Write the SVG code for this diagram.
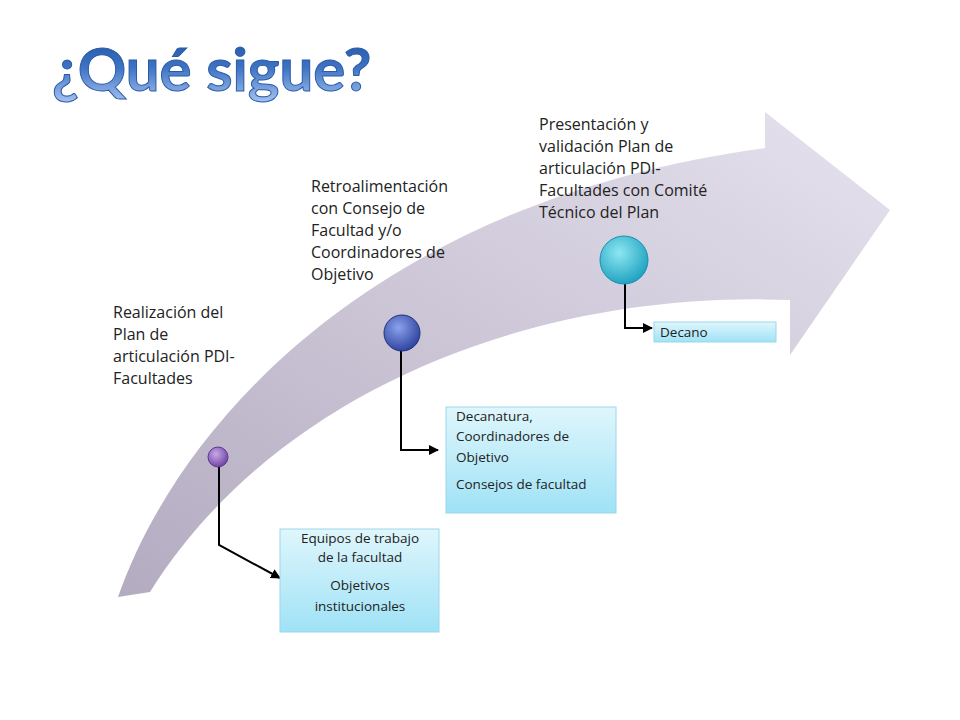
<svg xmlns="http://www.w3.org/2000/svg" width="960" height="720" viewBox="0 0 960 720">
<defs>
<linearGradient id="band" x1="0" y1="1" x2="1" y2="0"><stop offset="0" stop-color="#b3abc0"/><stop offset="1" stop-color="#e6e2ee"/></linearGradient>
<linearGradient id="title" x1="0" y1="0" x2="0" y2="1"><stop offset="0" stop-color="#1c4fa0"/><stop offset="0.5" stop-color="#3f74c4"/><stop offset="1" stop-color="#a9c6f0"/></linearGradient>
<linearGradient id="box" x1="0" y1="0" x2="0" y2="1"><stop offset="0" stop-color="#dff6fc"/><stop offset="1" stop-color="#9fe2f6"/></linearGradient>
<radialGradient id="g1" cx="0.4" cy="0.35" r="0.7"><stop offset="0" stop-color="#c9a8e8"/><stop offset="1" stop-color="#6a3fa0"/></radialGradient>
<radialGradient id="g2" cx="0.4" cy="0.35" r="0.7"><stop offset="0" stop-color="#8aa2ee"/><stop offset="1" stop-color="#2a3f9a"/></radialGradient>
<radialGradient id="g3" cx="0.4" cy="0.35" r="0.7"><stop offset="0" stop-color="#8ee6f2"/><stop offset="1" stop-color="#1a9fbf"/></radialGradient>
<marker id="ah" viewBox="0 0 10 10" refX="9" refY="5" markerWidth="5" markerHeight="5" orient="auto"><path d="M0,0 L10,5 L0,10 z" fill="#000"/></marker>
</defs>
<style>
.t{font-family:"Open Sans","Liberation Sans",sans-serif;font-size:16px;fill:#222}
.s{font-family:"Open Sans","Liberation Sans",sans-serif;font-size:13.5px;fill:#222}
.bx{fill:url(#box);stroke:#9ad7ea;stroke-width:1}
.c{fill:none;stroke:#000;stroke-width:2}
</style>
<rect width="960" height="720" fill="#fff"/>
<text x="52" y="91" font-family="Lato,'Open Sans',sans-serif" font-size="60" font-weight="bold" fill="url(#title)" stroke="#2a5aa8" stroke-width="1">¿Qué sigue?</text>
<path d="M118,597 C180,420 380,200 765,148 L765,112 L890,210 L790,355 L790,300 C520,290 270,400 150,592 Z" fill="url(#band)"/>
<g id="connectors">
<path class="c" d="M219,458 L219,545 L280,578" marker-end="url(#ah)"/>
<path class="c" d="M401,333 L401,450 L438,450" marker-end="url(#ah)"/>
<path class="c" d="M625,260 L625,328 L652,328" marker-end="url(#ah)"/>
</g>
<g id="n1"><circle cx="218" cy="457" r="10" fill="url(#g1)" stroke="#5a3a8a"/>
<text class="t" x="113" y="318">Realización del</text><text class="t" x="113" y="340">Plan de</text><text class="t" x="113" y="362">articulación PDI-</text><text class="t" x="113" y="384">Facultades</text></g>
<g id="n2"><circle cx="402" cy="333" r="18" fill="url(#g2)" stroke="#23307a"/>
<text class="t" x="311" y="192">Retroalimentación</text><text class="t" x="311" y="214">con Consejo de</text><text class="t" x="311" y="236">Facultad y/o</text><text class="t" x="311" y="258">Coordinadores de</text><text class="t" x="311" y="280">Objetivo</text></g>
<g id="n3"><circle cx="624" cy="260" r="24" fill="url(#g3)" stroke="#1a8fae"/>
<text class="t" x="539" y="130">Presentación y</text><text class="t" x="539" y="152">validación Plan de</text><text class="t" x="539" y="174">articulación PDI-</text><text class="t" x="539" y="196">Facultades con Comité</text><text class="t" x="539" y="218">Técnico del Plan</text></g>
<g id="b1"><rect class="bx" x="280" y="529" width="159" height="103"/>
<text class="s" text-anchor="middle" x="360" y="543">Equipos de trabajo</text><text class="s" text-anchor="middle" x="360" y="562">de la facultad</text><text class="s" text-anchor="middle" x="360" y="590">Objetivos</text><text class="s" text-anchor="middle" x="360" y="611">institucionales</text></g>
<g id="b2"><rect class="bx" x="446" y="407" width="170" height="106"/>
<text class="s" x="456" y="421">Decanatura,</text><text class="s" x="456" y="441">Coordinadores de</text><text class="s" x="456" y="462">Objetivo</text><text class="s" x="456" y="489">Consejos de facultad</text></g>
<g id="b3"><rect class="bx" x="654" y="322" width="122" height="20"/>
<text class="s" x="660" y="337">Decano</text></g>
</svg>
